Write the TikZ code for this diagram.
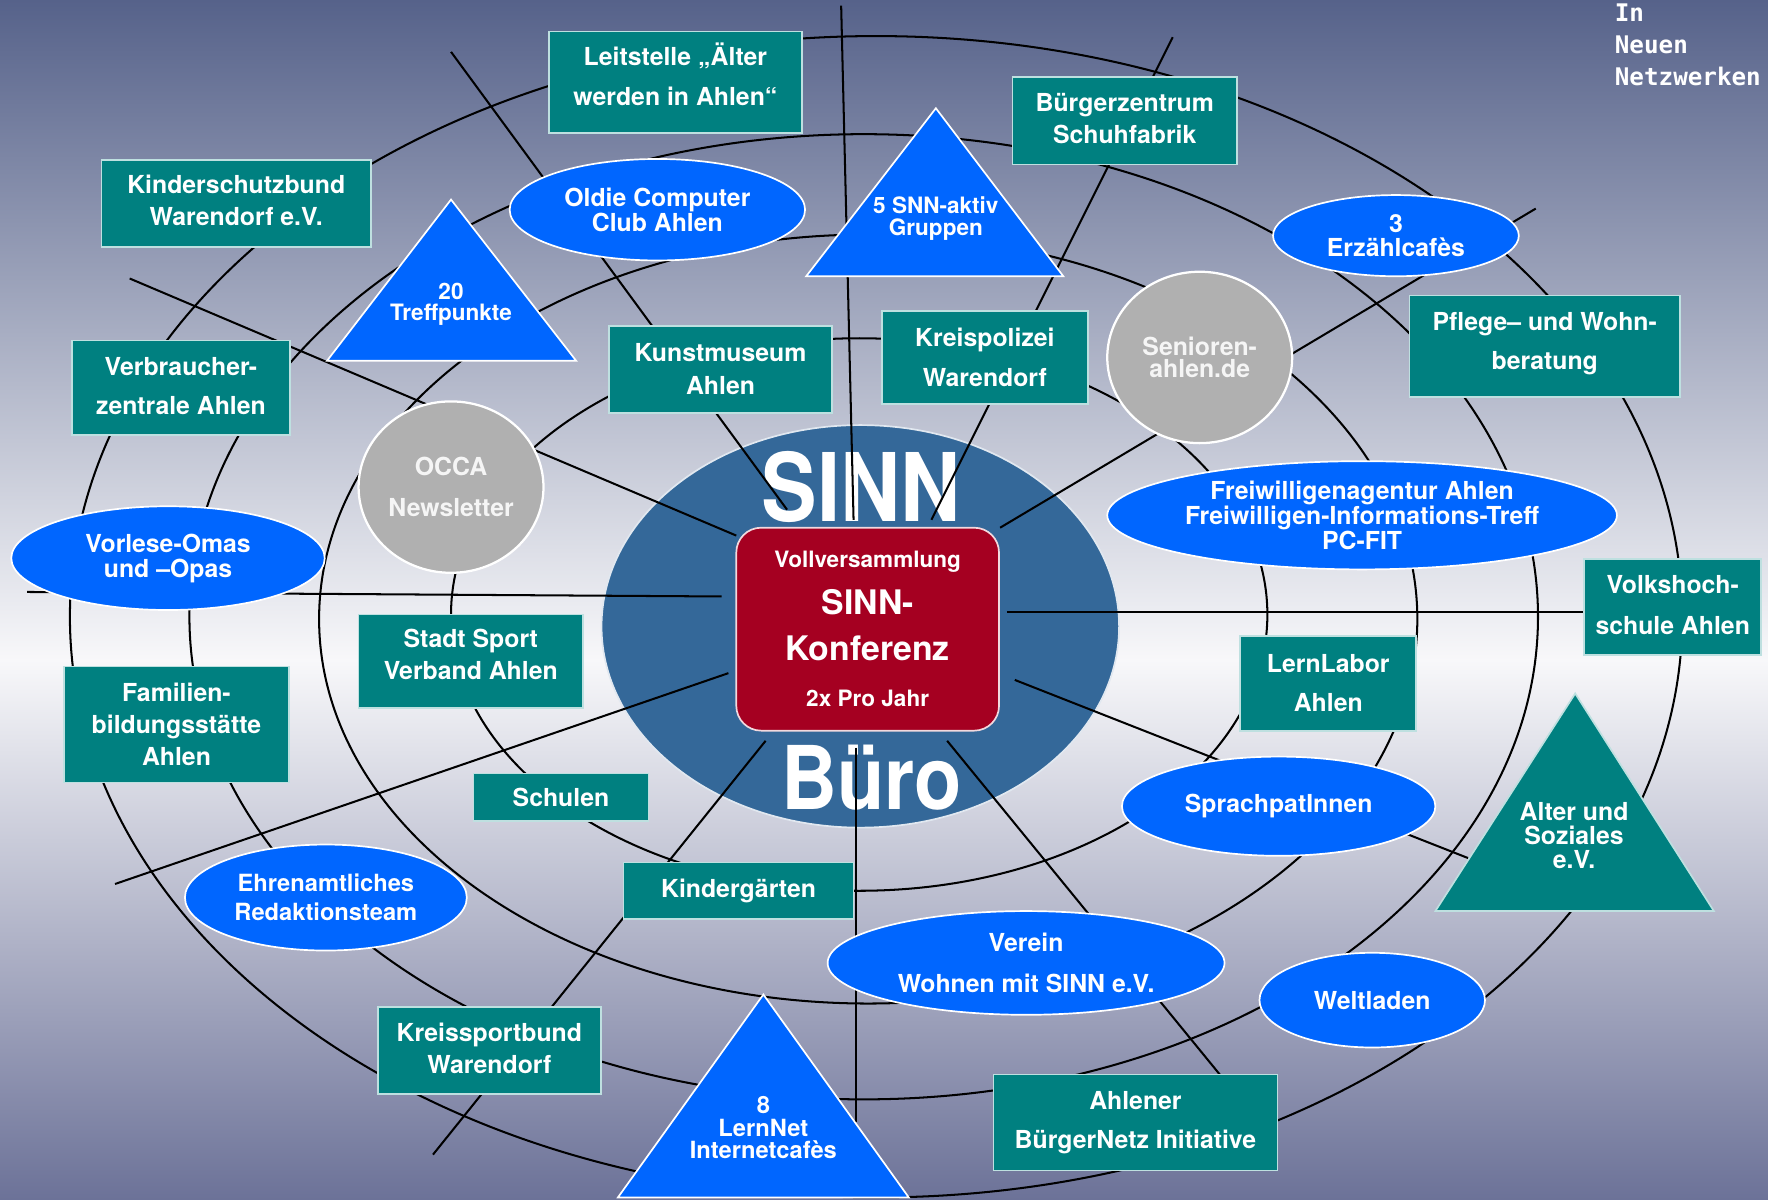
\documentclass[tikz,border=0pt]{standalone}
\usepackage{fontspec}
\setmainfont{TeX Gyre Heros}
\newfontfamily\bigsinn{TeX Gyre Heros}[FakeStretch=0.88]
\newfontfamily\slabmono{DejaVu Sans Mono}[UprightFont=* Bold]
\usetikzlibrary{shapes.geometric}
\newcommand\myfs[2]{\fontsize{#1}{#2}\selectfont}
\newcommand\lowstrut[1]{\rule[-#1pt]{0pt}{#1pt}}
\definecolor{tealc}{RGB}{0,128,128}
\definecolor{tealedge}{RGB}{190,224,224}
\definecolor{bluec}{RGB}{0,102,255}
\definecolor{grayc}{RGB}{176,176,176}
\definecolor{centerc}{RGB}{52,104,153}
\definecolor{redc}{RGB}{165,0,33}
\definecolor{bgtop}{RGB}{86,98,138}
\definecolor{bgmid}{RGB}{248,248,250}
\definecolor{bgbot}{RGB}{108,114,152}
\tikzset{
  ring/.style={draw=black, line width=1.8pt},
  spoke/.style={draw=black, line width=1.8pt},
  tealbox/.style={rectangle, fill=tealc, draw=tealedge, line width=1.5pt, text=white,
    inner sep=0pt, outer sep=0pt, align=center, font=\bfseries\myfs{22}{28}},
  blueell/.style={ellipse, fill=bluec, draw=white, line width=1.5pt, text=white,
    inner sep=0pt, outer sep=0pt, align=center, font=\bfseries\myfs{22}{21}},
  graycirc/.style={ellipse, fill=grayc, draw=white, line width=2pt, text=gray!8,
    inner sep=0pt, outer sep=0pt, align=center, font=\bfseries\myfs{22}{20}},
  bluetri/.style={fill=bluec, draw=white, line width=1.5pt, line join=miter},
  tealtri/.style={fill=tealc, draw=tealedge, line width=1.5pt, line join=miter},
  tritext/.style={text=white, inner sep=0pt, align=center, font=\bfseries\myfs{20}{20}},
  bigword/.style={text=white, inner sep=0pt, font=\bigsinn\bfseries\myfs{84}{84}}
}
\begin{document}
\begin{tikzpicture}[x=1pt,y=-1pt]
\useasboundingbox (0,0) rectangle (1568,1064);
% background
\shade[top color=bgtop, bottom color=bgmid] (0,0) rectangle (1568,586);
\shade[top color=bgmid, bottom color=bgbot] (0,585) rectangle (1568,1064);

% rings
\draw[ring] (762,545) ellipse [x radius=362pt, y radius=245pt];
\draw[ring] (770,549) ellipse [x radius=487pt, y radius=341pt];
\draw[ring] (766,547) ellipse [x radius=598pt, y radius=428pt];
\draw[ring] (777,547) ellipse [x radius=715pt, y radius=515pt];

% centre
\node[ellipse, fill=centerc, draw=white!85!centerc, line width=1.5pt, minimum width=459pt,
  minimum height=357pt, inner sep=0pt] (sinnell) at (763,555.5) {};
\node[bigword] (sinnword) at (764,432) {SINN};
\node[bigword, font=\bigsinn\bfseries\myfs{78}{78}] (buero) at (773,690) {Büro};

% spokes
\coordinate (a1) at (698,452);  \coordinate (b1) at (400,46);
\coordinate (a2) at (757,461);  \coordinate (b2) at (746,5);
\coordinate (a3) at (826,461);  \coordinate (b3) at (1040,33);
\coordinate (a4) at (887,468);  \coordinate (b4) at (1362,185);
\coordinate (a5) at (893,543);  \coordinate (b5) at (1420,543);
\coordinate (a6) at (900,603);  \coordinate (b6) at (1302,761);
\coordinate (a7) at (840,657);  \coordinate (b7) at (1090,963);
\coordinate (a8) at (759,663);  \coordinate (b8) at (759,995);
\coordinate (a9) at (679,657);  \coordinate (b9) at (384,1024);
\coordinate (a10) at (646,597); \coordinate (b10) at (102,784);
\coordinate (a11) at (640,529); \coordinate (b11) at (24,525);
\coordinate (a12) at (653,475); \coordinate (b12) at (115,247);
\foreach \i in {1,...,12} { \draw[spoke] (a\i) -- (b\i); }

% red box
\node[rectangle, rounded corners=22pt, fill=redc, draw=white!85!redc, line width=1.5pt,
  minimum width=233pt, minimum height=180pt, inner sep=0pt, text=white, align=center,
  font=\bfseries\myfs{30}{41}] (conf) at (769.5,558)
  {{\myfs{20}{41}Vollversammlung}\\SINN-\\Konferenz\\{\myfs{20}{41}2x Pro Jahr}};

% teal boxes
\node[tealbox, minimum width=224pt, minimum height=90pt, font=\bfseries\myfs{22}{35}] (leit) at (599,73) {Leitstelle „Älter\\werden in Ahlen“\lowstrut{14}};
\node[tealbox, minimum width=199pt, minimum height=78pt] (buerg) at (997.5,107) {Bürgerzentrum\\Schuhfabrik\lowstrut{4}};
\node[tealbox, minimum width=239pt, minimum height=77pt] (kinder) at (209.5,180.5) {Kinderschutzbund\\Warendorf e.V.\lowstrut{6}};
\node[tealbox, minimum width=193pt, minimum height=84pt, font=\bfseries\myfs{22}{35}] (verbr) at (160.5,344) {Verbraucher-\\zentrale Ahlen\lowstrut{3}};
\node[tealbox, minimum width=198pt, minimum height=77pt, font=\bfseries\myfs{22}{29}] (kunst) at (639,327.5) {Kunstmuseum\\Ahlen};
\node[tealbox, minimum width=183pt, minimum height=82pt, font=\bfseries\myfs{22}{35}] (kreispol) at (873.5,317) {Kreispolizei\\Warendorf};
\node[tealbox, minimum width=240pt, minimum height=90pt, font=\bfseries\myfs{22}{35}] (pflege) at (1370,307) {Pflege– und Wohn-\\beratung\lowstrut{9}};
\node[tealbox, minimum width=157pt, minimum height=85pt, font=\bfseries\myfs{22}{36}] (vhs) at (1483.5,538.5) {Volkshoch-\\schule Ahlen\lowstrut{4}};
\node[tealbox, minimum width=156pt, minimum height=84pt, font=\bfseries\myfs{22}{35}] (lernlab) at (1178,606) {LernLabor\\Ahlen};
\node[tealbox, minimum width=199pt, minimum height=83pt] (stadtsport) at (417.5,586.5) {Stadt Sport\\Verband Ahlen\lowstrut{12}};
\node[tealbox, minimum width=199pt, minimum height=103pt, font=\bfseries\myfs{22}{28.5}] (familien) at (156.5,642.5) {Familien-\\bildungsstätte\\Ahlen};
\node[tealbox, minimum width=155pt, minimum height=42pt] (schulen) at (497.5,707) {Schulen};
\node[tealbox, minimum width=204pt, minimum height=50pt] (kiga) at (655,790) {Kindergärten};
\node[tealbox, minimum width=198pt, minimum height=77pt] (kreissport) at (434,931.5) {Kreissportbund\\Warendorf\lowstrut{4}};
\node[tealbox, minimum width=252pt, minimum height=85pt, font=\bfseries\myfs{22}{35}] (ahlener) at (1007,995.5) {Ahlener\\BürgerNetz Initiative};

% blue ellipses
\node[blueell, minimum width=262pt, minimum height=90pt] (oldie) at (583,186) {Oldie Computer\\Club Ahlen};
\node[blueell, minimum width=218pt, minimum height=72pt, font=\bfseries\myfs{22}{22}] (erz) at (1238,209) {3\\Erzählcafès};
\node[blueell, minimum width=278pt, minimum height=92pt, font=\bfseries\myfs{22}{22}] (vorlese) at (149,495) {Vorlese-Omas\\und –Opas};
\node[blueell, minimum width=452pt, minimum height=96pt] (freiw) at (1208,457) {Freiwilligenagentur Ahlen\\Freiwilligen-Informations-Treff\\PC-FIT};
\node[blueell, minimum width=278pt, minimum height=88pt] (sprach) at (1134,715) {SprachpatInnen};
\node[blueell, minimum width=250pt, minimum height=94pt, font=\bfseries\myfs{21}{26}] (ehren) at (289,796) {Ehrenamtliches\\Redaktionsteam};
\node[blueell, minimum width=352pt, minimum height=92pt, font=\bfseries\myfs{22}{36}] (verein) at (910,854) {Verein\\Wohnen mit SINN e.V.};
\node[blueell, minimum width=200pt, minimum height=84pt] (welt) at (1217,887) {Weltladen};

% grey circles
\node[graycirc, minimum width=164pt, minimum height=152pt, font=\bfseries\myfs{22}{36}] (occa) at (400,432) {OCCA\\Newsletter};
\node[graycirc, minimum width=164pt, minimum height=152pt] (senioren) at (1064,317) {Senioren-\\ahlen.de};

% triangles
\coordinate (t1a) at (400,177); \coordinate (t1b) at (290,320); \coordinate (t1c) at (511,320);
\draw[bluetri] (t1a) -- (t1b) -- (t1c) -- cycle;
\node[tritext, font=\bfseries\myfs{20}{19}] (treff) at (400,270) {20\\Treffpunkte};
\coordinate (t2a) at (830,96); \coordinate (t2b) at (715,245); \coordinate (t2c) at (943,245);
\draw[bluetri] (t2a) -- (t2b) -- (t2c) -- cycle;
\node[tritext] (snn) at (830,194) {5 SNN-aktiv\\Gruppen};
\coordinate (t3a) at (677,882); \coordinate (t3b) at (548,1062); \coordinate (t3c) at (806,1062);
\draw[bluetri] (t3a) -- (t3b) -- (t3c) -- cycle;
\node[tritext, font=\bfseries\myfs{21}{20}] (lernnet) at (677,1000) {8\\LernNet\\Internetcafès};
\coordinate (t4a) at (1397,615); \coordinate (t4b) at (1273,808); \coordinate (t4c) at (1520,808);
\draw[tealtri] (t4a) -- (t4b) -- (t4c) -- cycle;
\node[tritext, font=\bfseries\myfs{22}{21}] (alter) at (1396,741) {Alter und\\Soziales\\e.V.};

% motto
\node[anchor=north west, align=left, inner sep=0pt, text=white,
  font=\slabmono\myfs{21.5}{28.5}] (motto) at (1432,3) {In\\Neuen\\Netzwerken};
\end{tikzpicture}
\end{document}
